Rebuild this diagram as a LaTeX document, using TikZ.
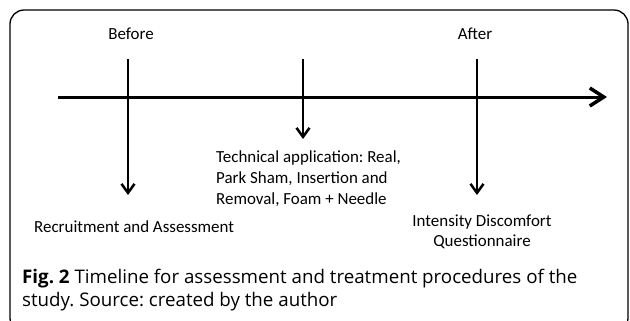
\documentclass[tikz,border=0pt]{standalone}
\usepackage{fontspec}
\setmainfont{Open Sans}
\newfontfamily\lblfont{Carlito}
\usetikzlibrary{arrows.meta}
\frenchspacing
\begin{document}
\begin{tikzpicture}[x=1bp,y=-1bp,
  lbl/.style={font=\lblfont\fontsize{17}{21}\selectfont\frenchspacing, inner sep=0pt},
  darrow/.style={line width=2bp,-{Straight Barb[length=9bp,width=13bp,line width=2.5bp]}},
  captext/.style={font=\fontsize{18.8}{23.5}\selectfont\frenchspacing, inner sep=0pt, align=left, anchor=north west}]
\useasboundingbox (0,0) rectangle (630,320);
\draw[line width=1.3bp, rounded corners=14bp] (10,10) rectangle (628,332);
% timeline
\coordinate (tl0) at (58,97);
\coordinate (tl1) at (607,97);
\draw[line width=3bp,-{Straight Barb[length=14bp,width=18bp,line width=3.5bp]}] (tl0) -- (tl1);
% verticals
\coordinate (b0) at (128,59); \coordinate (b1) at (128,195);
\coordinate (m0) at (303,59); \coordinate (m1) at (303,139);
\coordinate (a0) at (477,59); \coordinate (a1) at (477,195);
\draw[darrow] (b0) -- (b1);
\draw[darrow] (m0) -- (m1);
\draw[darrow] (a0) -- (a1);
% labels
\node[lbl] (before) at (131,34) {Before};
\node[lbl] (after) at (475,34) {After};
\node[lbl, anchor=west] (recr) at (34,227) {Recruitment and Assessment};
\node[lbl, anchor=west, align=left] (tech) at (216,179) {Technical application: Real,\\Park Sham, Insertion and\\Removal, Foam + Needle};
\node[lbl, align=center, font=\lblfont\fontsize{17}{20}\selectfont] (quest) at (482,232) {Intensity Discomfort\\Questionnaire};
% caption
\node[captext, anchor=west] (caption) at (22,290) {\textbf{Fig. 2} Timeline for assessment and treatment procedures of the\\study. Source: created by the author};
\end{tikzpicture}
\end{document}
